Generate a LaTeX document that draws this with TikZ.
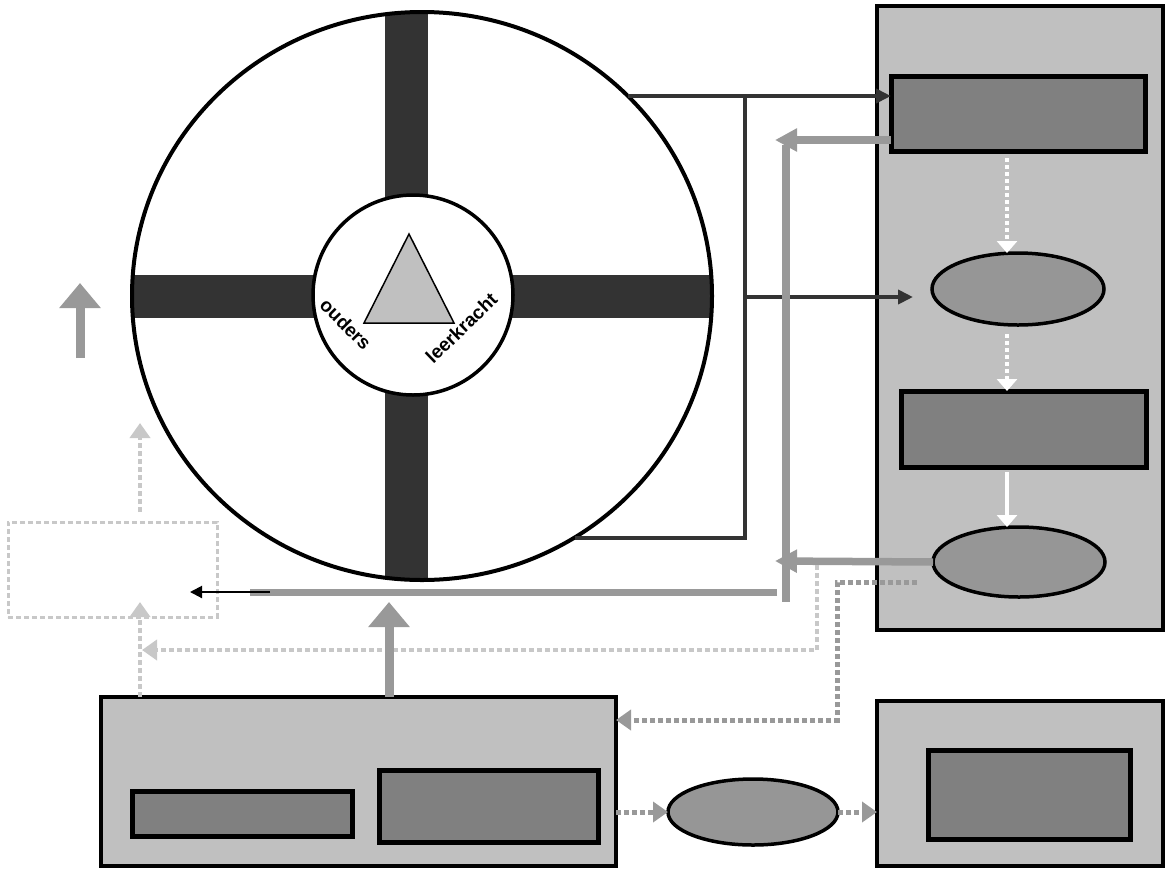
\documentclass[tikz,border=0pt]{standalone}
\usepackage{fontspec}
\setsansfont{Liberation Sans}
\usetikzlibrary{arrows.meta,shapes.geometric}

\definecolor{panelgray}{HTML}{C0C0C0}
\definecolor{blockgray}{HTML}{808080}
\definecolor{bubblegray}{HTML}{969696}
\definecolor{inkgray}{HTML}{333333}
\definecolor{flowgray}{HTML}{999999}
\definecolor{faintgray}{HTML}{C8C8C8}

\begin{document}
\begin{tikzpicture}[
	x=1pt, y=-1pt,
	every node/.style={inner sep=0, outer sep=0, font=\sffamily\bfseries\fontsize{19}{19}\selectfont},
	panel/.style={rectangle, draw=black, line width=4.5pt, fill=panelgray},
	block/.style={rectangle, draw=black, line width=5pt, fill=blockgray},
	bubble/.style={ellipse, draw=black, line width=3.5pt, fill=bubblegray, minimum width=172pt, minimum height=72pt},
	ghost/.style={rectangle, draw=faintgray, line width=3pt, dash pattern=on 5pt off 3pt},
	link/.style={draw=inkgray, line width=4pt, -{Triangle[length=15pt, width=14pt]}},
	rail/.style={draw=inkgray, line width=4pt},
	feed/.style={draw=flowgray, line width=7.5pt, -{Triangle[length=22pt, width=22pt]}},
	lift/.style={draw=flowgray, line width=9pt, -{Triangle[length=25pt, width=40pt]}},
	hint/.style={draw=faintgray, line width=4.5pt, dash pattern=on 5pt off 3pt, -{Triangle[length=15pt, width=20pt]}},
	pass/.style={draw=flowgray, line width=5pt, dash pattern=on 5pt off 3pt, -{Triangle[length=15pt, width=20pt]}},
	inside/.style={draw=white, line width=4pt, -{Triangle[length=12pt, width=20pt]}}
	]

\useasboundingbox (0,0) rectangle (1167,871);

% Wheel with its cross
\begin{scope}
	\clip (422,296) ellipse [x radius=290, y radius=284];
	\fill[inkgray] (385,0) rectangle (428,600);
	\fill[inkgray] (100,275) rectangle (750,318);
\end{scope}
\node [ellipse, draw=black, line width=4pt, minimum width=580pt, minimum height=568pt] (wheel) at (422,296) {};
\node [circle, draw=black, line width=3.5pt, fill=white, minimum size=200pt] (hub) at (413,295) {};
\draw [fill=panelgray, line width=1.5pt] (409,234) -- (454,323) -- (364,323) -- cycle;
\node [rotate=-45, anchor=base] (parents) at (341,329) {ouders};
\node [rotate=44, anchor=base] (teacher) at (466,333) {leerkracht};

% Right column
\node [panel, minimum width=286pt, minimum height=624pt] (stack) at (1020,318) {};
\node [block, minimum width=254pt, minimum height=75pt] (intake) at (1018,113.5) {};
\node [bubble] (talk) at (1018,289) {};
\node [block, minimum width=245pt, minimum height=76pt] (plan) at (1023.5,429) {};
\node [bubble, minimum height=70pt] (review) at (1019,562) {};

% Bottom row
\node [panel, minimum width=515pt, minimum height=169pt] (base) at (358.5,781.5) {};
\node [block, minimum width=220pt, minimum height=45pt] (baseleft) at (242,813.5) {};
\node [block, minimum width=219pt, minimum height=72pt] (baseright) at (488.5,806) {};
\node [bubble, minimum width=170pt, minimum height=66pt] (transfer) at (753,812) {};
\node [panel, minimum width=286pt, minimum height=165pt] (outcome) at (1020,783.5) {};
\node [block, minimum width=202pt, minimum height=89pt] (result) at (1029,794.5) {};

% Left side
\node [ghost, minimum width=209pt, minimum height=95pt] (ghost) at (112.5,569.5) {};

% Free ends
\coordinate (tap) at (628,96);
\coordinate (spine) at (745,96);
\coordinate (tapdown) at (575,538);
\coordinate (fork) at (745,297);
\coordinate (fork end) at (913,297);
\coordinate (return) at (775,140);
\coordinate (rail top) at (786,145);
\coordinate (rail foot) at (786,602);
\coordinate (back in) at (775,561);
\coordinate (back top) at (777,592);
\coordinate (back end) at (250,592);
\coordinate (handover) at (270,592);
\coordinate (handover end) at (190,592);
\coordinate (lift) at (389,602);
\coordinate (hint) at (140,602);
\coordinate (hint top) at (140,423);
\coordinate (tap low) at (817,565);
\coordinate (hint side) at (142,650);
\coordinate (loop start) at (917,582);
\coordinate (loop) at (837,720);
\coordinate (axis) at (1007,0);
\coordinate (up foot) at (80,358);
\coordinate (up tip) at (80,283);

% Wheel to right column
\draw [link] (tap) -- (intake.west |- tap);
\draw [rail] (spine) -- (spine |- tapdown) -- (tapdown);
\draw [link] (fork) -- (fork end);

% Back from the right column
\draw [draw=flowgray, line width=8pt] (rail top) -- (rail foot);
\draw [feed] (intake.west |- return) -- (return);
\draw [feed] (review.west) -- (back in);
\draw [draw=flowgray, line width=7pt] (back top) -- (back end);
\draw [draw=black, line width=2pt, -{Triangle[length=12pt, width=12pt]}] (handover) -- (handover end);

% Inside the right column
\draw [inside, dash pattern=on 4pt off 3pt, shorten <=7pt] (intake.south -| axis) -- (talk.north -| axis);
\draw [inside, dash pattern=on 4pt off 3pt, shorten <=9pt] (talk.south -| axis) -- (plan.north -| axis);
\draw [inside, shorten <=5pt] (plan.south -| axis) -- (review.north -| axis);

% Dotted routes
\draw [hint] (tap low) |- (hint side);
\draw [pass] (loop start) -| (loop) -- (base.east |- loop);
\draw [pass] (base.east |- transfer) -- (transfer.west);
\draw [pass] (transfer.east) -- (outcome.west |- transfer);
\draw [hint] (base.north -| hint) -- (hint);
\draw [hint, shorten <=10pt] (ghost.north -| hint) -- (hint top);

% Upward arrows
\draw [lift] (base.north -| lift) -- (lift);
\draw [lift] (up foot) -- (up tip);

\end{tikzpicture}
\end{document}
